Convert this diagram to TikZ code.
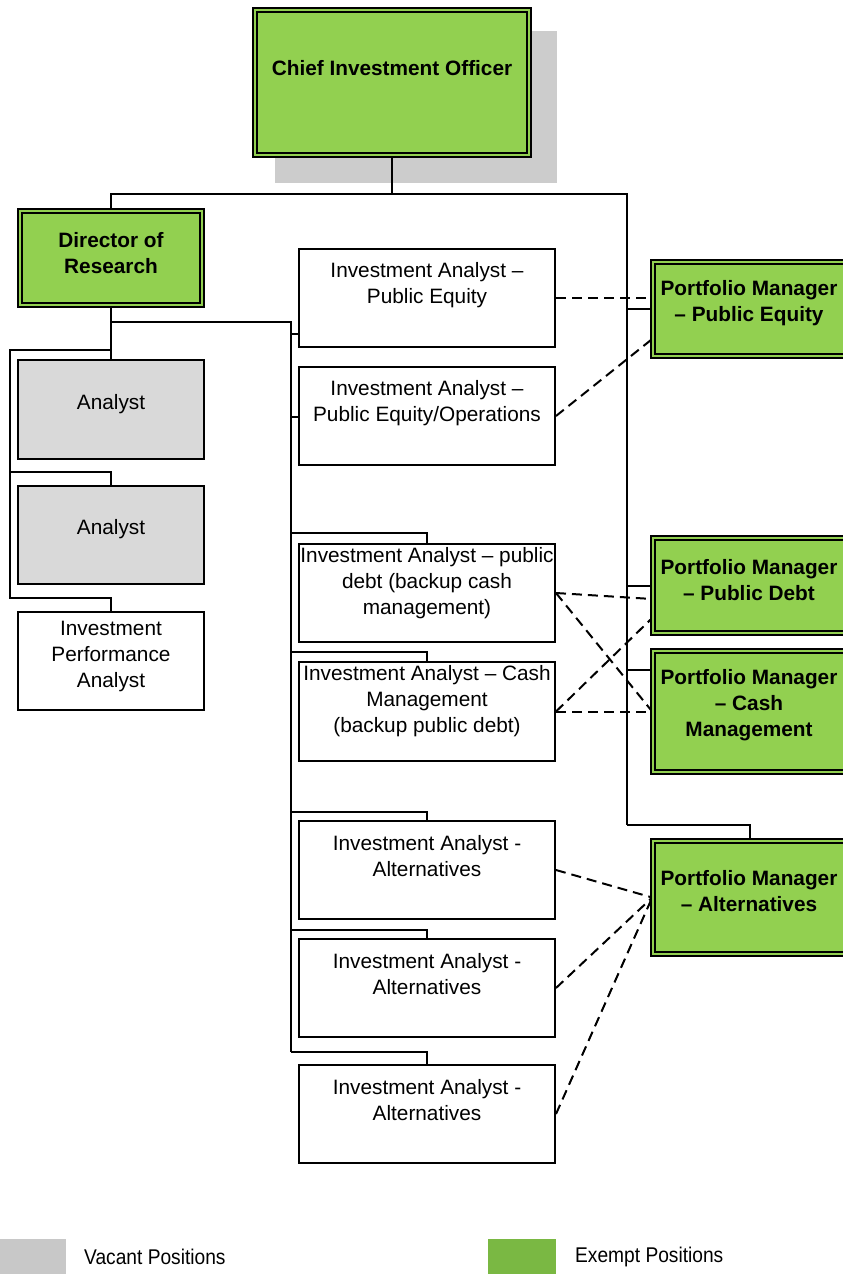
\documentclass[tikz,border=0pt]{standalone}
\usepackage{fontspec}
\setmainfont{Liberation Sans}
\newfontfamily\narrowfont[FakeStretch=0.9]{Liberation Sans}
\pgfdeclarelayer{background}
\pgfsetlayers{background,main}
\definecolor{boxgreen}{HTML}{92D050}
\definecolor{vacgray}{HTML}{D9D9D9}
\definecolor{shadowgray}{HTML}{CCCCCC}
\definecolor{leggray}{HTML}{C8C8C8}
\definecolor{leggreen}{HTML}{7AB843}
\tikzset{
  box/.style={draw=black, line width=2pt, fill=white, inner sep=0pt, minimum width=186pt},
  graybox/.style={box, fill=vacgray},
  midbox/.style={box, minimum width=256pt, minimum height=98pt},
  greenbox/.style={draw=black, fill=boxgreen, double=boxgreen, double distance=2.6pt, line width=1.8pt, inner sep=0pt},
  pmbox/.style={greenbox, minimum width=193.8pt},
  txt/.style={align=center, inner sep=0pt, font=\fontsize{20.8}{26}\selectfont},
  btxt/.style={align=center, inner sep=0pt, font=\fontsize{20.8}{26}\selectfont\bfseries},
  legtxt/.style={inner sep=0pt, anchor=west, font=\narrowfont\fontsize{21.3}{26}\selectfont},
  conn/.style={line width=2.5pt},
  thinconn/.style={line width=2pt},
  dashconn/.style={line width=2pt, dash pattern=on 10pt off 6pt},
}
\begin{document}
\begin{tikzpicture}[x=1pt,y=-1pt]
\useasboundingbox (0,0) rectangle (843,1274);
\clip (0,0) rectangle (843,1274);

% ---------- boxes ----------
\node[greenbox, minimum width=273.8pt, minimum height=144.8pt] (cio) at (392,82.5) {};
\node[greenbox, minimum width=181.8pt, minimum height=93.8pt] (dir) at (111,258) {};
\node[graybox, minimum height=99pt] (an1) at (111,409.5) {};
\node[graybox, minimum height=98pt] (an2) at (111,535) {};
\node[box, minimum height=98pt] (ipa) at (111,661) {};

\node[midbox] (mpe) at (427,298) {};
\node[midbox] (mops) at (427,416) {};
\node[midbox] (mdebt) at (427,593) {};
\node[midbox, minimum height=99pt] (mcash) at (427,711.5) {};
\node[midbox] (malt1) at (427,870) {};
\node[midbox] (malt2) at (427,988) {};
\node[midbox] (malt3) at (427,1114) {};

\node[pmbox, minimum height=93.8pt] (pmpe) at (750,309) {};
\node[pmbox, minimum height=94.8pt] (pmpd) at (750,585.5) {};
\node[pmbox, minimum height=120.8pt] (pmcash) at (750,711.5) {};
\node[pmbox, minimum height=112.8pt] (pmalt) at (750,897.5) {};

% ---------- texts ----------
\node[btxt] (t-cio) at (392,68) {Chief Investment Officer};
\node[btxt] (t-dir) at (111,253) {Director of\\Research};
\node[txt] (t-an1) at (111,404) {Analyst};
\node[txt] (t-an2) at (111,529) {Analyst};
\node[txt] (t-ipa) at (111,656) {Investment\\Performance\\Analyst};

\node[txt] (t-mpe) at (427,285) {Investment Analyst –\\Public Equity};
\node[txt] (t-mops) at (427,403) {Investment Analyst –\\Public Equity/Operations};
\node[txt] (t-mdebt) at (427,583) {Investment Analyst – public\\debt (backup cash\\management)};
\node[txt] (t-mcash) at (427,701) {Investment Analyst – Cash\\Management\\(backup public debt)};
\node[txt] (t-malt1) at (427,856) {Investment Analyst -\\Alternatives};
\node[txt] (t-malt2) at (427,974) {Investment Analyst -\\Alternatives};
\node[txt] (t-malt3) at (427,1100) {Investment Analyst -\\Alternatives};

\node[btxt] (t-pmpe) at (749,303) {Portfolio Manager\\– Public Equity};
\node[btxt] (t-pmpd) at (749,580) {Portfolio Manager\\– Public Debt};
\node[btxt] (t-pmcash) at (749,705) {Portfolio Manager\\– Cash\\Management};
\node[btxt] (t-pmalt) at (749,891) {Portfolio Manager\\– Alternatives};

% ---------- legend ----------
\node[fill=leggray, inner sep=0pt, minimum width=66pt, minimum height=40pt, anchor=north west] (lgv) at (0,1239) {};
\node[legtxt] (lgvt) at (84,1257) {Vacant Positions};
\node[fill=leggreen, inner sep=0pt, minimum width=68pt, minimum height=40pt, anchor=north west] (lge) at (488,1239) {};
\node[legtxt] (lget) at (575,1257) {Exempt Positions};

% ---------- connectors ----------
\coordinate (bus) at (392,194);
\coordinate (rbus) at (627,194);
\coordinate (rbot) at (627,825);
\coordinate (ldrop) at (111,322);
\coordinate (spine) at (291,1052);
\coordinate (lsplit) at (111,350);
\coordinate (lspine) at (10,598);
\coordinate (le2) at (10,472);

\begin{pgfonlayer}{background}
  \fill[shadowgray] (275,31) rectangle (557,183);
  % top level
  \draw[conn] (cio.south) -- (bus);
  \draw[conn] (dir.north) |- (rbus) -- (rbot);
  \draw[thinconn] (rbot) -| (pmalt.north);
  \draw[conn] (pmpe.west |- 0,309) -- (rbus |- 0,309);
  \draw[conn] (pmpd.west |- 0,586) -- (rbus |- 0,586);
  \draw[conn] (pmcash.west |- 0,670) -- (rbus |- 0,670);
  % director subtree (left)
  \draw[conn] (dir.south) -- (an1.north);
  \draw[thinconn] (lsplit) -| (lspine) -| (ipa.north);
  \draw[thinconn] (le2) -| (an2.north);
  % director subtree (middle)
  \draw[conn] (dir.south) -- (ldrop) -| (spine);
  \draw[thinconn] (spine) -| (malt3.north);
  \draw[thinconn] (spine |- 0,334) -- (mpe.west |- 0,334);
  \draw[thinconn] (spine |- 0,417) -- (mops.west |- 0,417);
  \draw[thinconn] (spine |- 0,533) -| (mdebt.north);
  \draw[thinconn] (spine |- 0,652) -| (mcash.north);
  \draw[thinconn] (spine |- 0,812) -| (malt1.north);
  \draw[thinconn] (spine |- 0,930) -| (malt2.north);
  % dotted-line relationships
  \draw[dashconn] (mpe.east) -- (mpe.east -| pmpe.west);
  \draw[dashconn] (mops.east) -- ([yshift=-30pt]pmpe.west);
  \draw[dashconn] (mdebt.east) -- ([yshift=-13.5pt]pmpd.west);
  \draw[dashconn] (mdebt.east) -- (pmcash.west);
  \draw[dashconn] (mcash.east) -- ([yshift=-32.5pt]pmpd.west);
  \draw[dashconn] (mcash.east) -- (pmcash.west);
  \draw[dashconn] (malt1.east) -- (pmalt.west);
  \draw[dashconn] (malt2.east) -- (pmalt.west);
  \draw[dashconn] (malt3.east) -- (pmalt.west);
\end{pgfonlayer}
\end{tikzpicture}
\end{document}
